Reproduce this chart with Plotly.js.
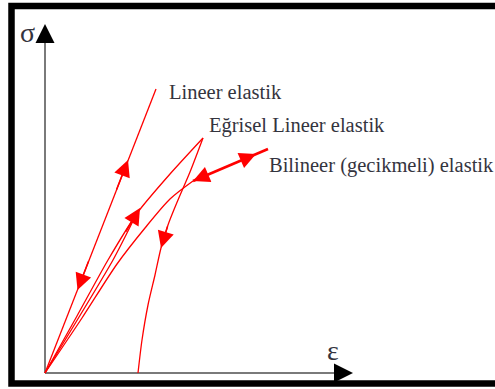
<!DOCTYPE html>
<html><head><meta charset="utf-8">
<script src="https://cdn.plot.ly/plotly-3.0.1.min.js"></script>
<style>html,body{margin:0;padding:0;background:#fff}#chart{width:495px;height:389px}</style>
</head><body><div id="chart"></div>
<script>
// strain (ε) / stress (σ) readings, origin at the axis corner
const linX = [0, 111];
const linY = [0, 284];
const egrLoadX = [0, 32, 63, 93, 125, 158];
const egrLoadY = [0, 57, 113, 161, 199, 235];
const egrLoad2X = [0, 68, 92];
const egrLoad2Y = [0, 113, 160];
const egrUnloadX = [158, 145, 133, 123, 116, 110, 103, 97, 93];
const egrUnloadY = [235, 201, 173, 148, 125, 98, 68, 33, 0];
const bilCurveX = [0, 37, 72, 100, 125, 148];
const bilCurveY = [0, 55, 109, 145, 174, 192];
const bilLineX = [148, 223];
const bilLineY = [192, 224];
// direction arrows on the curves: tip and a point behind it
const arrowTipX = [83, 32.5, 95, 116, 211, 148];
const arrowTipY = [213, 83, 165, 125, 219, 192];
const arrowTailX = [71, 44, 80, 123, 196, 163];
const arrowTailY = [182, 113, 140, 148, 212.6, 198.4];
// labels
const curveLabels = ['Lineer elastik', 'Eğrisel Lineer elastik', 'Bilineer (gecikmeli) elastik'];
const labelX = [122, 162, 222];
const labelY = [281, 248, 208];
const axisNames = ['σ', 'ε'];

const red = '#ff0000';
const thin = {color: red, width: 1.3};
const traces = [
  {x: linX, y: linY, mode: 'lines', line: thin},
  {x: egrLoadX, y: egrLoadY, mode: 'lines', line: Object.assign({shape: 'spline', smoothing: 0.6}, thin)},
  {x: egrLoad2X, y: egrLoad2Y, mode: 'lines', line: Object.assign({shape: 'spline', smoothing: 0.6}, thin)},
  {x: egrUnloadX, y: egrUnloadY, mode: 'lines', line: Object.assign({shape: 'spline', smoothing: 0.8}, thin)},
  {x: bilCurveX, y: bilCurveY, mode: 'lines', line: Object.assign({shape: 'spline', smoothing: 0.8}, thin)},
  {x: bilLineX, y: bilLineY, mode: 'lines', line: {color: red, width: 2.6}}
];

const annotations = [];
for (let i = 0; i < arrowTipX.length; i++) {
  annotations.push({x: arrowTipX[i], y: arrowTipY[i], ax: arrowTailX[i], ay: arrowTailY[i],
    xref: 'x', yref: 'y', axref: 'x', ayref: 'y', text: '', showarrow: true,
    arrowhead: 2, arrowsize: 2.2, arrowwidth: 1.5, arrowcolor: red, standoff: 0});
}
curveLabels.forEach((t, i) => annotations.push({x: labelX[i], y: labelY[i], xref: 'x', yref: 'y',
  text: t, showarrow: false, xanchor: 'left', yanchor: 'middle',
  font: {family: 'Liberation Serif', size: 20.5, color: '#34343e'}}));
// axis arrows
annotations.push({x: 0, y: 349, ax: 0, ay: 330, xref: 'x', yref: 'y', axref: 'x', ayref: 'y', text: '',
  showarrow: true, arrowhead: 2, arrowsize: 1.9, arrowwidth: 2, arrowcolor: '#000', standoff: 0});
annotations.push({x: 308, y: 0, ax: 290, ay: 0, xref: 'x', yref: 'y', axref: 'x', ayref: 'y', text: '',
  showarrow: true, arrowhead: 2, arrowsize: 1.9, arrowwidth: 2, arrowcolor: '#000', standoff: 0});
annotations.push({x: -18, y: 341, xref: 'x', yref: 'y', text: axisNames[0], showarrow: false,
  font: {family: 'Liberation Serif', size: 28, color: '#34343e'}});
annotations.push({x: 288, y: 23, xref: 'x', yref: 'y', text: axisNames[1], showarrow: false,
  font: {family: 'Liberation Serif', size: 28, color: '#34343e'}});

const layout = {
  width: 495, height: 389, margin: {l: 0, r: 0, t: 0, b: 0},
  paper_bgcolor: '#fff', plot_bgcolor: '#fff', showlegend: false,
  xaxis: {range: [-45, 450], visible: false, fixedrange: true},
  yaxis: {range: [-16, 373], visible: false, fixedrange: true},
  shapes: [
    {type: 'rect', xref: 'x', yref: 'y', x0: -33.5, x1: 480, y0: -10.5, y1: 367,
      line: {color: '#000', width: 6.5}, layer: 'above'},
    {type: 'line', xref: 'x', yref: 'y', x0: 0, y0: 0, x1: 292, y1: 0, line: {color: '#7a7a7a', width: 2}, layer: 'below'},
    {type: 'line', xref: 'x', yref: 'y', x0: 0, y0: 0, x1: 0, y1: 336, line: {color: '#7a7a7a', width: 2}, layer: 'below'}
  ],
  annotations: annotations
};
Plotly.newPlot('chart', traces, layout, {staticPlot: true, displayModeBar: false});
</script></body></html>
